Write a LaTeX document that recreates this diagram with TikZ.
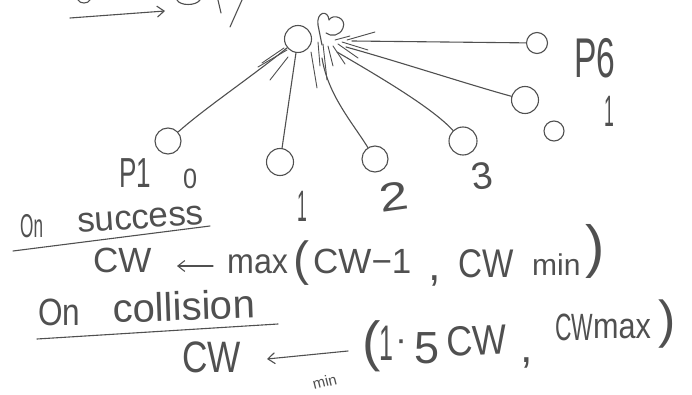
\documentclass[tikz,border=0pt]{standalone}
\usepackage{fontspec}
\setmainfont{Liberation Sans}
\usetikzlibrary{arrows.meta}
\definecolor{ink}{HTML}{505050}
\newcommand{\hwx}[2]{\scalebox{#1}[1]{#2}}
\tikzset{
  hw/.style={text=ink, inner sep=0pt, anchor=base west},
  fs/.style={font=\fontsize{#1}{#1}\selectfont},
  station/.style={circle, draw=ink, line width=1.1pt, inner sep=0pt, minimum size=#1},
  pen/.style={draw=ink, line width=1.1pt, line cap=round, line join=round},
  tick/.style={draw=ink, line width=0.9pt, line cap=round},
  harrow/.style={pen, -{Straight Barb[length=7pt, width=11pt]}}
}
\begin{document}
\begin{tikzpicture}[x=1pt, y=-1pt]
\fill[white] (0,0) rectangle (692,395);
\useasboundingbox (0,0) rectangle (692,395);

% cut-off strokes at the top edge
\draw[pen] (78,0) .. controls (80,4) and (88,4) .. (90,0);
\draw[pen] (177,0) .. controls (180,6) and (196,6) .. (200,0);
\draw[pen] (218,0) -- (221,13);
\draw[pen] (242,0) -- (230,27);
\coordinate (ta) at (70,18);
\coordinate (tb) at (165,11);
\draw[harrow] (ta) -- (tb);

% stations
\node[station=27] (ap) at (298,39) {};
\node[station=26] (p1) at (168,141) {};
\node[station=27] (n1) at (280,162) {};
\node[station=26] (n2) at (375,159) {};
\node[station=28] (n3) at (463,141) {};
\node[station=27] (n4) at (525,100) {};
\node[station=21] (p6) at (537,43) {};
\node[station=20] (s0) at (554,131) {};

% scribble next to the AP
\draw[pen] (322,45) -- (318,25) .. controls (316,12) and (328,9) .. (329,20)
  .. controls (333,13) and (347,18) .. (343,28) .. controls (340,36) and (331,37) .. (326,33);

% connector ends
\coordinate (h2) at (322,58);
\coordinate (h3) at (337,52);
\coordinate (h4) at (346,47);
\coordinate (h6) at (352,41);

% connectors
\draw[pen] (p1) .. controls (205,108) and (250,78) .. (ap);
\draw[pen] (n1) -- (ap);
\draw[pen] (n2) .. controls (352,122) and (328,95) .. (h2);
\draw[pen] (n3) .. controls (432,108) and (385,80) .. (h3);
\draw[pen] (n4) .. controls (470,85) and (400,62) .. (h4);
\draw[pen] (p6) -- (h6);

% collision strokes
\draw[tick] (258,67) -- (287,50);
\draw[tick] (262,63) -- (284,48);
\draw[tick] (270,80) -- (288,57);
\draw[tick] (311,52) -- (317,88);
\draw[tick] (318,42) -- (320,66);
\draw[tick] (323,44) -- (327,80);
\draw[tick] (328,46) -- (333,66);
\draw[tick] (333,46) -- (345,64);
\draw[tick] (338,44) -- (358,58);
\draw[tick] (342,42) -- (368,50);
\draw[tick] (347,40) -- (375,32);
\draw[tick] (335,40) -- (350,36);

% labels of the stations
\node[hw, fs=42] (lp1) at (119,188) {\hwx{.62}{P1}};
\node[hw, fs=28] (l0) at (183,189) {\hwx{.9}{0}};
\node[hw, fs=44] (l1) at (297,222) {\hwx{.4}{1}};
\node[hw, fs=40, rotate=8] (l2) at (381,213) {\hwx{1.3}{2}};
\node[hw, fs=38, rotate=8] (l3) at (473,191) {3};
\node[hw, fs=56] (lp6) at (574,78) {\hwx{.6}{P6}};
\node[hw, fs=44] (l1r) at (604,127) {\hwx{.4}{1}};

% on success
\node[hw, fs=33] (on1) at (20,237) {\hwx{.52}{On}};
\node[hw, fs=35, rotate=4, text height=19pt, text depth=0pt] (succ) at (78,233) {success};
\coordinate (u1a) at (13,251);
\coordinate (u1b) at (210,226);
\draw[pen] (u1a) -- (u1b);

\node[hw, fs=35] (cw1) at (93,272) {CW};
\coordinate (a1s) at (213,266);
\coordinate (a1e) at (177,266);
\draw[harrow] (a1s) -- (a1e);
\node[hw, fs=35] (max1) at (227,273) {\hwx{.92}{max}};
\node[hw, fs=48] (lpa) at (293,275) {(};
\node[hw, fs=35] (cwm1) at (313,273) {CW−1};
\node[hw, fs=45] (cm1) at (428,280) {,};
\node[hw, fs=40] (cw1b) at (458,277) {\hwx{.83}{CW}};
\node[hw, fs=30] (mn1) at (532,275) {min};
\node[hw, fs=58] (rpa) at (585,266) {)};

% on collision
\node[hw, fs=38] (on2) at (38,325) {\hwx{.83}{On}};
\node[hw, fs=40, rotate=2] (coll) at (113,323) {collision};
\coordinate (u2a) at (37,339);
\coordinate (u2b) at (278,324);
\draw[pen] (u2a) -- (u2b);

\node[hw, fs=44] (cw2) at (182,372) {\hwx{.8}{CW}};
\coordinate (a2s) at (348,351);
\coordinate (a2e) at (267,359);
\draw[harrow] (a2s) -- (a2e);
\node[hw, fs=15, rotate=14, text height=9pt, text depth=0pt] (mn2) at (314,390) {min};
\node[hw, fs=55] (lpb) at (362,360) {(};
\node[hw, fs=50] (one2) at (379,360) {\hwx{.5}{1}};
\node[hw, fs=36] (dot2) at (395,351) {·};
\node[hw, fs=45] (five2) at (414,363) {5};
\node[hw, fs=42, rotate=3] (cw2b) at (447,357) {\hwx{.86}{CW}};
\node[hw, fs=45] (cm2) at (520,362) {,};
\node[hw, fs=38] (cw2c) at (555,340) {\hwx{.6}{CW}};
\node[hw, fs=36] (max2) at (593,338) {\hwx{.85}{max}};
\node[hw, fs=52] (rpb) at (658,337) {)};
\end{tikzpicture}
\end{document}
